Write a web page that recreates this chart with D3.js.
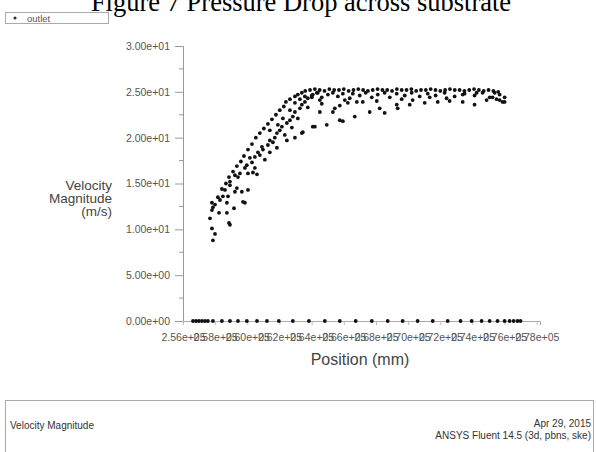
<!DOCTYPE html>
<html>
<head>
<meta charset="utf-8">
<script src="https://cdn.jsdelivr.net/npm/d3@7"></script>
<style>
  html, body { margin: 0; padding: 0; background: #fff; }
  svg { display: block; }
</style>
</head>
<body>
<svg id="chart" width="596" height="452"></svg>
<script>
// ---------- data ----------
const chartTitle = "Figure 7 Pressure Drop across substrate";
const seriesName = "outlet";
const xTicks = [256000, 258000, 260000, 262000, 264000, 266000, 268000, 270000, 272000, 274000, 276000, 278000];
const yTicks = [0, 5, 10, 15, 20, 25, 30];
const yMinorTicks = [2.5, 7.5, 12.5, 17.5, 22.5, 27.5];

// wall nodes (velocity = 0)
const wallPosition = [256620, 256810, 256990, 257180, 257370, 257550, 257860, 258420, 258920, 259420, 259970, 260600, 261220, 261960, 262830, 263830, 264820, 265750, 266740, 267740, 268730, 269660, 270590, 271530, 272460, 273260, 273950, 274570, 275070, 275560, 276000, 276310, 276560, 276800, 276990];

// outlet nodes: position (mm) and velocity magnitude (m/s)
const outletPosition = [
  257680, 257800, 257990, 257860, 257800, 257860, 258240, 258730, 258860, 258920,
  259170, 258730, 258480, 258800, 258920, 258920, 259350, 259230, 259660, 259730,
  259850, 260040, 259420, 259540, 260040, 260350, 260600, 259230, 259850, 259970,
  260290, 260160, 260470, 260780, 260660, 260970, 260910, 261280, 261400, 261590,
  261710, 261840, 262020, 262150, 262460, 262460, 262650, 262830, 262960, 263270,
  263390, 263580, 263760, 264010, 264070, 264320, 261840, 263450, 264070, 261090,
  261400, 260470, 258300, 258610, 262330, 262770, 263140, 262210, 262650, 262960,
  263270, 263580, 261900, 261400,
  262960, 263390, 264200, 264940, 265750, 265940, 266680, 267610, 268540, 269350,
  270100, 271030, 271840, 272580, 273390, 274130, 274880, 275870, 265320, 264510, 263760,
  265440, 266250, 267180, 268230, 269290, 270280, 271340, 272390, 273390, 274260,
  275250, 276000, 276000, 275690, 275380,
  264010, 264380, 264630, 265010, 265320, 265630, 265940, 266370, 266560, 266990,
  267360, 267740, 268110, 268540, 268860, 269290, 269790, 270220, 270720, 271220,
  271710, 272270, 272890, 273510, 274130, 274630, 275070, 275500, 275690, 264510,
  266060, 266810, 268050, 269600, 264630, 265750, 263390, 263140, 262960, 262650,
  262400, 262270, 262020, 261780, 261530, 261280, 261030, 260780, 260530, 260290,
  260040, 259790, 259600, 259350, 259110, 258860, 258670, 258420, 258170, 257990, 257800,
  263600, 263900, 264200, 264500, 264800, 265100, 265400, 265700, 266000, 266300,
  266600, 266900, 267200, 267500, 267800, 268100, 268400, 268700, 269000, 269300,
  269600, 269900, 270200, 270500, 270800, 271100, 271400, 271700, 272000, 272300,
  272600, 272900, 273200, 273500, 273800, 274100, 274400, 274700, 275000, 275300, 275600
];
const outletVelocity = [
  11.2, 10.1, 9.5, 8.8, 12.1, 12.4, 11.8, 11.8, 10.7, 10.5,
  12.3, 12.9, 13.6, 13.6, 15.2, 14.8, 14.5, 14.1, 14.1, 13.0,
  12.9, 14.3, 15.7, 16.1, 16.1, 16.2, 16.0, 15.9, 16.7, 17.0,
  17.3, 17.8, 17.9, 18.1, 18.4, 18.7, 19.0, 19.2, 19.7, 19.5,
  20.0, 20.5, 20.8, 21.2, 21.6, 19.7, 21.9, 22.3, 22.8, 23.2,
  23.6, 23.9, 24.3, 24.4, 24.7, 24.9, 18.9, 20.6, 21.2, 17.6,
  18.4, 16.7, 13.2, 14.3, 20.3, 21.1, 22.1, 22.1, 23.0, 23.8,
  24.2, 24.5, 21.4, 20.8,
  20.0, 20.5, 21.2, 21.4, 21.9, 21.8, 22.3, 22.8, 22.7, 23.2,
  23.6, 23.8, 23.9, 24.0, 23.9, 23.6, 24.1, 23.9, 22.8, 22.8, 23.3,
  23.2, 23.8, 23.9, 23.2, 23.6, 24.1, 24.4, 24.3, 24.7, 24.9,
  24.4, 23.9, 24.4, 24.7, 24.9,
  24.6, 24.9, 24.4, 24.7, 24.9, 24.5, 24.8, 24.3, 24.8, 24.6,
  24.9, 24.4, 24.7, 24.9, 24.4, 24.8, 24.6, 24.9, 24.5, 24.8,
  24.6, 24.9, 24.5, 24.8, 24.6, 24.9, 24.4, 24.2, 24.1, 24.1,
  24.1, 23.9, 24.0, 24.2, 23.7, 23.5, 24.9, 24.7, 24.5, 24.2,
  23.9, 23.4, 23.0, 22.5, 22.0, 21.5, 21.0, 20.5, 20.0, 19.3,
  18.7, 18.0, 17.4, 16.9, 16.3, 15.7, 15.0, 14.4, 13.5, 12.7, 12.9,
  25.1, 25.2, 25.3, 25.2, 25.1, 25.3, 25.2, 25.2, 25.3, 25.1,
  25.2, 25.3, 25.2, 25.1, 25.2, 25.3, 25.2, 25.2, 25.1, 25.3,
  25.2, 25.2, 25.3, 25.1, 25.2, 25.2, 25.3, 25.2, 25.1, 25.2,
  25.3, 25.2, 25.2, 25.1, 25.2, 25.3, 25.2, 25.1, 25.2, 25.1, 25.0
];

// ---------- layout ----------
const svg = d3.select("#chart");
const x = d3.scaleLinear().domain([256000, 278200]).range([183, 540]);
const y = d3.scaleLinear().domain([0, 30]).range([321, 46]);
const sci = v => {
  const s = v.toExponential(2);
  const [m, e] = s.split("e");
  const sign = e[0] === "-" ? "-" : "+";
  const d = e.replace(/[+-]/, "");
  return m + "e" + sign + (d.length < 2 ? "0" + d : d);
};
const ff = "Liberation Sans, Arial, sans-serif";

// title (cropped at the top)
svg.append("text")
  .attr("x", 301).attr("y", 11)
  .attr("text-anchor", "middle")
  .attr("font-family", "Liberation Serif, Times New Roman, serif")
  .attr("font-size", 26.5)
  .attr("fill", "#000")
  .text(chartTitle);

// legend
svg.append("rect").attr("x", 5.5).attr("y", 12.5).attr("width", 103).attr("height", 11)
  .attr("fill", "#fff").attr("stroke", "#aaa");
svg.append("circle").attr("cx", 15).attr("cy", 18).attr("r", 1.6).attr("fill", "#333");
svg.append("text").attr("x", 27).attr("y", 21.5)
  .attr("font-family", ff).attr("font-size", 9.5)
  .attr("fill", "#555").text(seriesName);

// y axis
const yAxis = d3.axisLeft(y).tickValues(yTicks).tickFormat(sci).tickSize(8).tickPadding(5);
const gy = svg.append("g").attr("transform", "translate(183,0)").call(yAxis);
gy.select(".domain").attr("stroke", "#999");
gy.selectAll(".tick line").attr("stroke", "#999");
gy.selectAll(".tick text").attr("font-family", ff)
  .attr("font-size", 10.5).attr("fill", "#555");
gy.append("g").selectAll("line").data(yMinorTicks).join("line")
  .attr("x1", -4).attr("x2", 0).attr("y1", d => y(d)).attr("y2", d => y(d))
  .attr("stroke", "#999");

// x axis
const xAxis = d3.axisBottom(x).tickValues(xTicks).tickFormat(sci).tickSize(4).tickPadding(9);
const gx = svg.append("g").attr("transform", "translate(0,321)").call(xAxis);
gx.select(".domain").attr("stroke", "#aaa");
gx.selectAll(".tick line").attr("stroke", "#bbb");
gx.selectAll(".tick text").attr("font-family", ff)
  .attr("font-size", 10.5).attr("fill", "#555");

// axis titles
const yTitle = svg.append("text").attr("text-anchor", "end")
  .attr("font-family", ff).attr("font-size", 13.5).attr("fill", "#444");
["Velocity", "Magnitude", "(m/s)"].forEach((t, i) =>
  yTitle.append("tspan").attr("x", 112).attr("y", 190 + i * 13).text(t));
svg.append("text").attr("x", 360).attr("y", 365).attr("text-anchor", "middle")
  .attr("font-family", ff).attr("font-size", 16)
  .attr("fill", "#444").text("Position (mm)");

// points
const pts = outletPosition.map((p, i) => ({ p, v: outletVelocity[i] }))
  .concat(wallPosition.map(p => ({ p, v: 0 })));
svg.append("g").selectAll("circle").data(pts).join("circle")
  .attr("cx", d => x(d.p)).attr("cy", d => y(d.v)).attr("r", 1.9).attr("fill", "#111");

// footer
svg.append("rect").attr("x", 5.5).attr("y", 400.5).attr("width", 588).attr("height", 70)
  .attr("fill", "none").attr("stroke", "#aaa");
svg.append("text").attr("x", 10).attr("y", 429).attr("font-family", ff).attr("font-size", 10)
  .attr("fill", "#333").text("Velocity Magnitude");
svg.append("text").attr("x", 591).attr("y", 427).attr("text-anchor", "end").attr("font-family", ff)
  .attr("font-size", 10).attr("fill", "#333").text("Apr 29, 2015");
svg.append("text").attr("x", 591).attr("y", 439).attr("text-anchor", "end").attr("font-family", ff)
  .attr("font-size", 10).attr("fill", "#333").text("ANSYS Fluent 14.5 (3d, pbns, ske)");
</script>
</body>
</html>
